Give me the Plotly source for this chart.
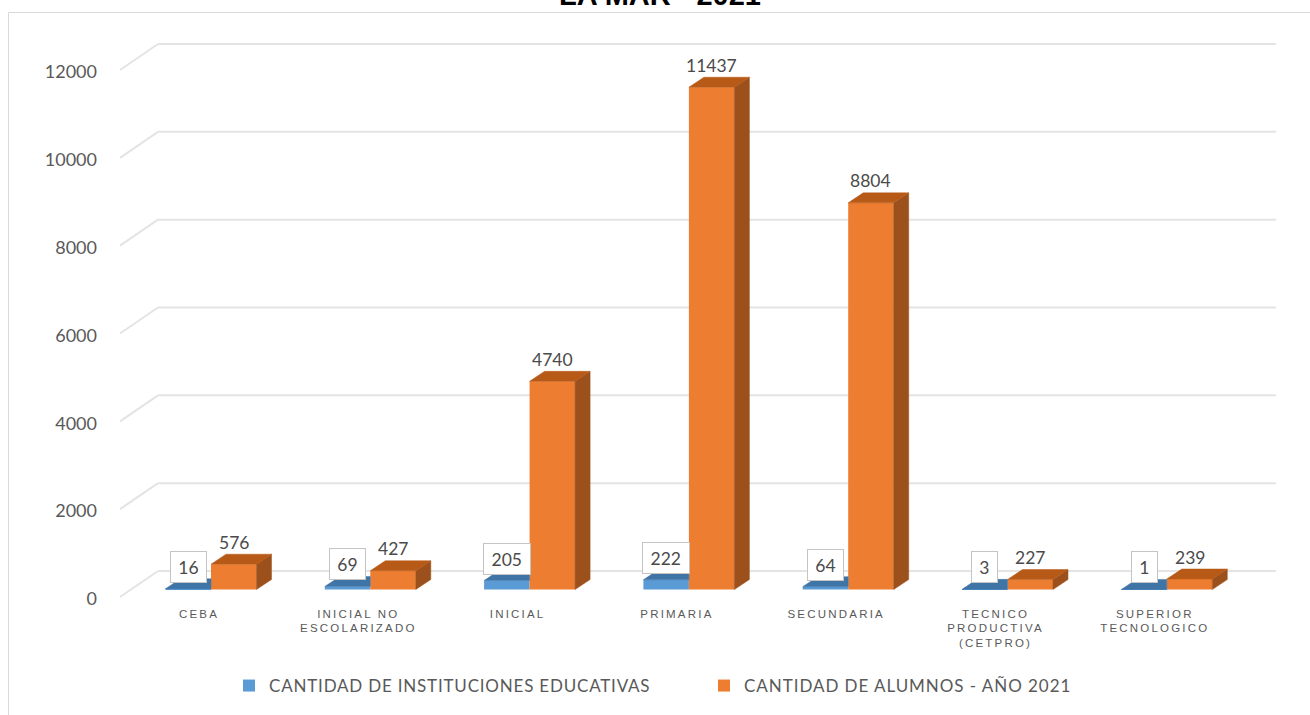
import plotly.graph_objects as go

# ---- data ----
categories = ["CEBA", "INICIAL NO<br>ESCOLARIZADO", "INICIAL", "PRIMARIA", "SECUNDARIA",
              "TECNICO<br>PRODUCTIVA<br>(CETPRO)", "SUPERIOR<br>TECNOLOGICO"]
instituciones = [16, 69, 205, 222, 64, 3, 1]
alumnos = [576, 427, 4740, 11437, 8804, 227, 239]
y_ticks = [0, 2000, 4000, 6000, 8000, 10000, 12000]
series_names = ["CANTIDAD DE INSTITUCIONES EDUCATIVAS", "CANTIDAD DE ALUMNOS - AÑO 2021"]

# ---- layout constants (page pixels) ----
W, H = 1310, 715
L, R, T, B = 98, 1295, 20, 605
X0_PX, X_STEP = 199.0, 159.3      # category label centre, category width
Y0_PX, Y_PX = 597.0, 527.0 / 12000  # pixel of value 0, pixels per value
BAR_W = 45.5
BAR_SHIFT = 12.0                  # bars' shared edge right of label centre
BASE_LIFT = 7.5                   # floor lift of bar plane
DEPTH_X, DEPTH_Y = 15.0, 10.0     # bar depth
WALL_X, WALL_Y = 38.0, 26.0       # wall offset
WALL_RIGHT = 1276.0
FRONT_LEFT = 120.0

GREY = "#595959"
BLUE, BLUE_TOP = "#5B9BD5", "#3F74A6"
ORANGE, ORANGE_TOP, ORANGE_SIDE = "#ED7D31", "#B85A17", "#9C501C"

def xval(px): return (px - X0_PX) / X_STEP
def dx(px): return px / X_STEP
def dy(px): return px / Y_PX
def yval(px): return (Y0_PX - px) / Y_PX
def paper_x(px): return (px - L) / (R - L)
def paper_y(px): return (B - px) / (B - T)
def spaced(text, s): return '<span style="letter-spacing:%spx">%s</span>' % (s, text)

idx = list(range(len(categories)))
base = dy(BASE_LIFT)
bw, shift = dx(BAR_W), dx(BAR_SHIFT)

fig = go.Figure()

# front faces
fig.add_bar(x=idx, y=instituciones, base=base, width=bw, offset=shift - bw,
            marker=dict(color=BLUE, line_width=0), name=spaced(series_names[0], 0.8),
            hoverinfo="x+name")
fig.add_bar(x=idx, y=alumnos, base=base, width=bw, offset=shift,
            marker=dict(color=ORANGE, line_width=0), name=spaced(series_names[1], 0.95),
            hoverinfo="x+name")

# depth faces
def poly(points_list):
    xs, ys = [], []
    for pts in points_list:
        xs += [p[0] for p in pts] + [pts[0][0], None]
        ys += [p[1] for p in pts] + [pts[0][1], None]
    return xs, ys

dpx, dpy = dx(DEPTH_X), dy(DEPTH_Y)
blue_top, orange_top, orange_side = [], [], []
for i, vb, vo in zip(idx, instituciones, alumnos):
    a, m, e = i + shift - bw, i + shift, i + shift + bw
    tb, to = base + vb, base + vo
    blue_top.append([(a, tb), (a + dpx, tb + dpy), (m, tb + dpy), (m, tb)])
    orange_top.append([(m, to), (m + dpx, to + dpy), (e + dpx, to + dpy), (e, to)])
    orange_side.append([(e, base), (e + dpx, base + dpy), (e + dpx, to + dpy), (e, to)])

for faces, col in [(blue_top, BLUE_TOP), (orange_side, ORANGE_SIDE), (orange_top, ORANGE_TOP)]:
    xs, ys = poly(faces)
    fig.add_scatter(x=xs, y=ys, mode="lines", fill="toself", fillcolor=col,
                    line=dict(color=col, width=0.5), showlegend=False, hoverinfo="skip")

# back-wall gridlines with the diagonal return to the axis
shapes = []
x_front, x_back, x_right = xval(FRONT_LEFT), xval(FRONT_LEFT + WALL_X), xval(WALL_RIGHT)
wall = dy(WALL_Y)
gridline = dict(color="#E4E4E4", width=2)
for t in y_ticks:
    shapes.append(dict(type="line", layer="below", xref="x", yref="y", x0=x_front, y0=t,
                       x1=x_back, y1=t + wall, line=gridline))
    shapes.append(dict(type="line", layer="below", xref="x", yref="y", x0=x_back, y0=t + wall,
                       x1=x_right, y1=t + wall, line=gridline))

# outer chart frame
frame = dict(color="#D9D9D9", width=1)
shapes.append(dict(type="line", xref="paper", yref="paper", x0=paper_x(8.5), y0=paper_y(12.5),
                   x1=paper_x(1310), y1=paper_y(12.5), line=frame))
shapes.append(dict(type="line", xref="paper", yref="paper", x0=paper_x(8.5), y0=paper_y(12.5),
                   x1=paper_x(8.5), y1=paper_y(715), line=frame))

# data labels
annotations = []
LABEL_FONT = dict(family="Lato", size=17.5, color="#4A4A4A")
for i, vb, vo in zip(idx, instituciones, alumnos):
    annotations.append(dict(x=i + shift + bw / 2, y=base + vo + dpy, xref="x", yref="y",
                            text=str(vo), showarrow=False, font=LABEL_FONT,
                            yanchor="middle", yshift=12))
    annotations.append(dict(x=i + shift - bw / 2, y=base + vb, xref="x", yref="y",
                            text=str(vb), showarrow=False, font=LABEL_FONT,
                            yanchor="middle", yshift=22,
                            bgcolor="white", bordercolor="#C4C4C4", borderwidth=1,
                            width=12 + 10.5 * len(str(vb)), height=28))

# clipped title
annotations.append(dict(x=paper_x(660), y=paper_y(12.5), xref="paper", yref="paper",
                        text="<b>LA MAR - 2021</b>", showarrow=False, yanchor="bottom",
                        font=dict(family="Liberation Sans", size=29, color="black")))

tick_text = ["<br>".join(spaced(p, 2.2) for p in c.split("<br>")) for c in categories]

fig.update_layout(
    width=W, height=H, autosize=False,
    margin=dict(l=L, r=W - R, t=T, b=H - B, pad=0),
    paper_bgcolor="white", plot_bgcolor="white",
    barmode="overlay", shapes=shapes, annotations=annotations,
    xaxis=dict(range=[xval(L), xval(R)], tickvals=idx, ticktext=tick_text, showgrid=False,
               zeroline=False, showline=False, ticks="", automargin=False,
               tickfont=dict(family="Liberation Sans", size=11.5, color=GREY), tickangle=0),
    yaxis=dict(range=[yval(B), yval(T)], tickvals=y_ticks, showgrid=False, zeroline=False,
               showline=False, ticks="", automargin=False, tickformat="d", ticklabelshift=2,
               tickfont=dict(family="Lato", size=18, color=GREY)),
    legend=dict(orientation="h", xref="container", yref="container", x=229 / W, xanchor="left",
                y=1 - 686 / H, yanchor="middle", entrywidth=430, entrywidthmode="pixels",
                font=dict(family="Lato", size=17, color=GREY), bgcolor="rgba(0,0,0,0)",
                traceorder="normal"),
)

fig.write_html("out.html", config={"displayModeBar": False},
               post_script="document.body.style.margin='0';")
